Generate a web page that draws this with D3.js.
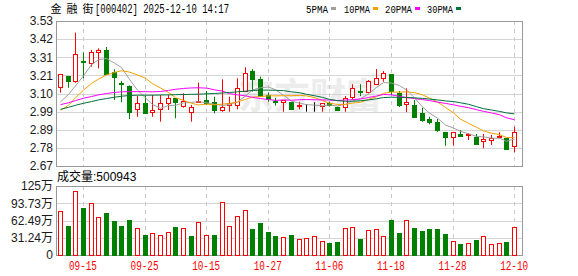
<!DOCTYPE html>
<html>
<head>
<meta charset="utf-8">
<script src="https://cdn.jsdelivr.net/npm/d3@7"></script>
<style>
  body { margin: 0; background: #fff; }
  svg { display: block; }
</style>
</head>
<body>
<div id="wrapper"></div>
<script>
const dates = ["09-10","09-11","09-12","09-15","09-16","09-17","09-18","09-19","09-22","09-23",
  "09-24","09-25","09-26","09-29","09-30","10-09","10-10","10-13","10-14","10-15",
  "10-16","10-17","10-20","10-21","10-22","10-23","10-24","10-27","10-28","10-29",
  "10-30","10-31","11-03","11-04","11-05","11-06","11-07","11-10","11-11","11-12",
  "11-13","11-14","11-17","11-18","11-19","11-20","11-21","11-24","11-25","11-26",
  "11-27","11-28","12-01","12-02","12-03","12-04","12-05","12-08","12-09","12-10"];

const open = [3.137,3.204,3.170,3.291,3.279,3.350,3.360,3.226,3.160,3.144,
  3.006,3.045,2.989,3.006,3.048,3.072,3.028,2.989,3.050,3.061,
  3.051,3.002,3.032,3.036,3.115,3.233,3.186,3.091,3.055,3.048,
  3.048,3.030,3.022,3.032,3.022,3.042,3.022,3.020,3.077,3.115,
  3.107,3.160,3.190,3.216,3.103,3.036,3.032,2.983,2.949,2.929,
  2.872,2.844,2.860,2.852,2.844,2.814,2.820,2.842,2.834,2.785];
const high = [3.214,3.204,3.461,3.344,3.358,3.368,3.376,3.244,3.174,3.148,
  3.087,3.087,3.091,3.091,3.091,3.072,3.101,3.032,3.164,3.115,
  3.081,3.184,3.081,3.190,3.255,3.245,3.200,3.107,3.075,3.060,
  3.048,3.051,3.036,3.048,3.042,3.051,3.022,3.085,3.155,3.155,
  3.180,3.245,3.233,3.216,3.115,3.131,3.061,3.016,2.962,2.949,
  2.872,2.872,2.883,2.864,2.860,2.860,2.854,2.870,2.834,2.903];
const low = [3.105,3.134,3.164,3.190,3.259,3.249,3.215,3.061,3.048,2.949,
  2.962,2.986,2.962,2.933,3.002,2.953,3.016,2.933,3.048,3.032,
  2.983,2.992,2.992,3.006,3.115,3.111,3.085,3.051,3.028,2.992,
  3.006,3.006,2.992,2.992,2.992,3.022,3.006,2.992,3.066,3.085,
  3.100,3.155,3.170,3.091,3.020,2.989,2.962,2.933,2.917,2.873,
  2.790,2.790,2.844,2.824,2.805,2.775,2.795,2.834,2.771,2.751];
const close = [3.214,3.176,3.332,3.287,3.344,3.360,3.217,3.194,3.156,2.992,
  3.042,2.986,3.000,3.042,3.075,3.048,3.057,3.018,3.056,3.045,
  3.006,3.018,3.045,3.134,3.220,3.186,3.087,3.067,3.048,3.060,
  3.006,3.034,3.022,3.032,3.042,3.028,3.006,3.072,3.131,3.107,
  3.174,3.194,3.220,3.113,3.032,3.048,2.962,2.943,2.933,2.883,
  2.844,2.872,2.850,2.858,2.805,2.828,2.834,2.848,2.771,2.870];

// volume in 万
const volume = [79.7,52.5,116,85.1,94.2,68.3,76.1,61.6,52.5,63.4,
  48.3,36.2,39.9,35.6,41.7,50.7,48.3,34.4,59.2,35.6,
  36.2,95.4,51.9,70.1,80.9,47.1,58.0,41.7,34.4,32.0,
  36.2,29.0,30.2,33.8,25.4,21.7,23.6,48.3,50.1,29.0,
  44.7,46.5,33.8,63.4,39.9,62.8,48.9,43.5,47.1,47.1,
  38.0,25.4,19.9,21.7,27.2,33.8,19.9,21.7,23.6,50.0943];
const volumeUp = [1,0,1,0,1,1,0,0,0,0, 1,0,1,1,1,0,1,0,1,1,
  0,1,1,1,1,0,0,0,0,1, 0,1,1,1,1,0,0,1,1,0,
  1,1,1,0,0,1,0,0,0,0, 0,1,0,1,0,1,1,1,0,1];

const ma5 = [3.050,3.095,3.145,3.205,3.271,3.300,3.308,3.280,3.254,3.184,
  3.120,3.074,3.035,3.012,3.029,3.030,3.044,3.048,3.051,3.045,
  3.036,3.029,3.034,3.050,3.085,3.121,3.134,3.139,3.122,3.090,
  3.054,3.043,3.034,3.031,3.027,3.032,3.026,3.036,3.056,3.069,
  3.098,3.136,3.165,3.162,3.147,3.121,3.075,3.020,2.984,2.954,
  2.913,2.895,2.876,2.861,2.846,2.843,2.835,2.835,2.817,2.830];
const ma10 = [3.000,3.030,3.075,3.120,3.160,3.185,3.210,3.225,3.235,3.227,
  3.210,3.191,3.158,3.133,3.106,3.075,3.059,3.042,3.032,3.037,
  3.033,3.037,3.041,3.050,3.065,3.079,3.082,3.086,3.086,3.087,
  3.087,3.089,3.086,3.076,3.058,3.043,3.035,3.035,3.043,3.048,
  3.065,3.081,3.101,3.109,3.108,3.110,3.105,3.092,3.073,3.050,
  3.017,2.985,2.948,2.923,2.900,2.878,2.865,2.856,2.839,2.838];
const ma20 = [3.034,3.045,3.058,3.072,3.082,3.092,3.100,3.106,3.110,3.111,
  3.111,3.111,3.110,3.112,3.118,3.125,3.130,3.133,3.134,3.132,
  3.122,3.114,3.099,3.092,3.086,3.077,3.070,3.064,3.059,3.062,
  3.060,3.063,3.064,3.063,3.062,3.061,3.058,3.061,3.064,3.068,
  3.076,3.085,3.094,3.092,3.083,3.076,3.070,3.064,3.058,3.049,
  3.041,3.033,3.024,3.016,3.004,2.994,2.985,2.974,2.956,2.944];
const ma30 = [3.006,3.018,3.030,3.042,3.052,3.062,3.070,3.078,3.084,3.088,
  3.090,3.090,3.090,3.091,3.092,3.093,3.094,3.095,3.096,3.098,
  3.100,3.103,3.106,3.110,3.114,3.118,3.120,3.120,3.119,3.117,
  3.110,3.105,3.095,3.087,3.077,3.065,3.058,3.054,3.054,3.057,
  3.062,3.069,3.076,3.078,3.077,3.077,3.074,3.071,3.067,3.062,
  3.056,3.052,3.045,3.036,3.022,3.010,3.002,2.994,2.985,2.979];

const xLabels = ["09-15","09-25","10-15","10-27","11-06","11-18","11-28","12-10"];
const yTickLabels = ["2.67","2.78","2.89","2.99","3.10","3.21","3.31","3.42","3.53"];
const volTicks = [0, 31.24, 62.49, 93.73, 125];
const volTickLabels = ["0","31.24万","62.49万","93.73万","125万"];
const maNames = ["5PMA","10PMA","20PMA","30PMA"];

const RED = "#ff0000", GREEN = "#008000";
const maColors = ["#a0a0a0", "#f5a000", "#ff00ff", "#00703c"];
const SANS = "'Liberation Sans', Arial, 'Noto Sans CJK SC', sans-serif";
const MONO = "'Liberation Mono', 'DejaVu Sans Mono', monospace";
const CJK = "'Noto Sans CJK SC', sans-serif";

const dim = { width: 578, height: 276, left: 56, right: 522,
  priceTop: 21, priceBottom: 166, volTop: 186, volBottom: 255 };

const svg = d3.select("#wrapper").append("svg")
  .attr("width", dim.width).attr("height", dim.height);

const xScale = d3.scaleBand().domain(dates).range([dim.left, 518]);
const cx = d => Math.round(xScale(d) + xScale.bandwidth() / 2);

const yMin = +yTickLabels[0], yMax = +yTickLabels[yTickLabels.length - 1];
const yScale = d3.scaleLinear().domain([yMin, yMax]).range([dim.priceBottom, dim.priceTop]);
const yTicks = d3.range(yTickLabels.length).map(i => yMin + i * (yMax - yMin) / (yTickLabels.length - 1));
const vScale = d3.scaleLinear().domain([0, volTicks[volTicks.length - 1]]).range([dim.volBottom, dim.volTop]);

// watermark
svg.append("text")
  .attr("x", 238).attr("y", 109)
  .attr("font-family", CJK).attr("font-size", 36).attr("font-weight", "bold")
  .attr("fill", "#ececec")
  .text("东方财富");

// grid
const grid = svg.append("g");
grid.selectAll(".hp").data(yTicks).join("line")
  .attr("x1", dim.left).attr("x2", dim.right)
  .attr("y1", d => Math.round(yScale(d)) + 0.5).attr("y2", d => Math.round(yScale(d)) + 0.5)
  .attr("stroke", "#d4d4d4");
grid.selectAll(".hv").data(volTicks).join("line")
  .attr("x1", dim.left).attr("x2", dim.right)
  .attr("y1", d => Math.round(vScale(d)) + 0.5).attr("y2", d => Math.round(vScale(d)) + 0.5)
  .attr("stroke", "#d4d4d4");
[[dim.priceTop, dim.priceBottom], [dim.volTop, dim.volBottom]].forEach(([t, b]) => {
  grid.append("g").selectAll("line").data(xLabels).join("line")
    .attr("x1", d => cx(d) + 0.5).attr("x2", d => cx(d) + 0.5)
    .attr("y1", t).attr("y2", b)
    .attr("stroke", "#c8c8c8").attr("stroke-dasharray", "4,4");
});

// frames
[[dim.priceTop, dim.priceBottom], [dim.volTop, dim.volBottom]].forEach(([t, b]) => {
  svg.append("rect")
    .attr("x", dim.left + 0.5).attr("y", t + 0.5)
    .attr("width", dim.right - dim.left).attr("height", b - t)
    .attr("fill", "none").attr("stroke", "#999");
});

// candles
const idx = d3.range(dates.length);
const candleColor = i => close[i] > open[i] ? RED : close[i] < open[i] ? GREEN : "#000";
const candles = svg.append("g");
candles.selectAll("line").data(idx).join("line")
  .attr("x1", i => cx(dates[i]) + 0.5).attr("x2", i => cx(dates[i]) + 0.5)
  .attr("y1", i => yScale(high[i])).attr("y2", i => yScale(low[i]))
  .attr("stroke", candleColor);
candles.selectAll("rect").data(idx).join("rect")
  .attr("x", i => cx(dates[i]) - 2 + 0.5)
  .attr("y", i => Math.round(yScale(Math.max(open[i], close[i]))) + 0.5)
  .attr("width", 4)
  .attr("height", i => Math.max(0, Math.round(yScale(Math.min(open[i], close[i])) - yScale(Math.max(open[i], close[i])))))
  .attr("fill", i => close[i] > open[i] ? "#fff" : candleColor(i))
  .attr("stroke", candleColor);

// moving averages
[ma5, ma10, ma20, ma30].forEach((series, k) => {
  const line = d3.line()
    .x((d, i) => cx(dates[i]) + 0.5)
    .y(d => yScale(d));
  svg.append("path")
    .attr("d", line(series))
    .attr("fill", "none")
    .attr("stroke", maColors[k])
    .attr("stroke-width", 1);
});

// volume bars
svg.append("g").selectAll("rect").data(idx).join("rect")
  .attr("x", i => cx(dates[i]) - 2 + 0.5)
  .attr("y", i => Math.round(vScale(volume[i])) + 0.5)
  .attr("width", 4)
  .attr("height", i => Math.round(vScale(0) - vScale(volume[i])))
  .attr("fill", i => volumeUp[i] ? "#fff" : GREEN)
  .attr("stroke", i => volumeUp[i] ? RED : GREEN);

// axes
svg.append("g")
  .attr("transform", `translate(${dim.left},0)`)
  .call(d3.axisLeft(yScale).tickValues(yTicks).tickSize(0).tickPadding(3)
    .tickFormat((d, i) => yTickLabels[i]))
  .call(g => g.select(".domain").remove())
  .selectAll("text")
  .attr("font-family", SANS).attr("font-size", 12).attr("fill", "#1a1a1a");

svg.append("g")
  .attr("transform", `translate(${dim.left},0)`)
  .call(d3.axisLeft(vScale).tickValues(volTicks).tickSize(0).tickPadding(3)
    .tickFormat((d, i) => volTickLabels[i]))
  .call(g => g.select(".domain").remove())
  .selectAll("text")
  .attr("font-family", SANS).attr("font-size", 12).attr("fill", "#1a1a1a");

svg.append("g")
  .attr("transform", `translate(0,${dim.volBottom})`)
  .call(d3.axisBottom(xScale).tickValues(xLabels).tickSize(0).tickPadding(6))
  .call(g => g.select(".domain").remove())
  .selectAll("text")
  .attr("font-family", MONO).attr("font-size", 12).attr("fill", RED)
  .attr("textLength", 28).attr("lengthAdjust", "spacingAndGlyphs");

// header
const header = svg.append("g");
["金", "融", "街"].forEach((c, i) => {
  header.append("text").attr("x", 50.5 + i * 16).attr("y", 13)
    .attr("font-family", CJK).attr("font-size", 11).attr("fill", "#000").text(c);
});
header.append("text").attr("x", 95).attr("y", 13)
  .attr("font-family", MONO).attr("font-size", 12)
  .attr("textLength", 134).attr("lengthAdjust", "spacingAndGlyphs")
  .text("[000402] 2025-12-10 14:17");

// legend
const legendX = [306, 344, 385, 427];
const legendW = [22, 26, 27, 26];
maNames.forEach((name, k) => {
  header.append("text").attr("x", legendX[k]).attr("y", 12.5)
    .attr("font-family", MONO).attr("font-size", 11)
    .attr("textLength", legendW[k]).attr("lengthAdjust", "spacingAndGlyphs")
    .text(name);
  header.append("rect")
    .attr("x", legendX[k] + legendW[k] + 3).attr("y", 7)
    .attr("width", 5).attr("height", 3)
    .attr("fill", maColors[k]);
});

svg.append("text")
  .attr("x", 57).attr("y", 181)
  .attr("font-family", SANS).attr("font-size", 12).attr("fill", "#000")
  .text("成交量:" + Math.round(volume[volume.length - 1] * 10000));
</script>
</body>
</html>
